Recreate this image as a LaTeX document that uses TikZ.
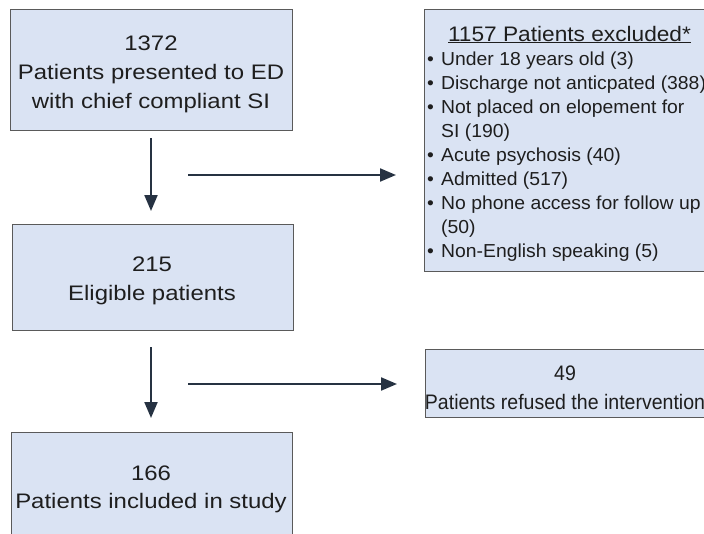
\documentclass[tikz,border=0pt]{standalone}
\usepackage{fontspec}
\setmainfont{Liberation Sans}
\newfontfamily\fA[FakeStretch=1.14]{Liberation Sans}
\newfontfamily\fB[FakeStretch=0.93]{Liberation Sans}
\newfontfamily\fC[FakeStretch=1.03]{Liberation Sans}
\newfontfamily\fD[FakeStretch=1.08]{Liberation Sans}
\usetikzlibrary{arrows.meta}
\definecolor{boxfill}{RGB}{218,227,243}
\definecolor{boxline}{RGB}{90,90,90}
\definecolor{arrowcol}{RGB}{38,50,66}
\definecolor{txt}{RGB}{30,30,30}
\tikzset{
  box/.style={draw=boxline, fill=boxfill, line width=1pt, anchor=north west, inner sep=0pt},
  bigtxt/.style={anchor=base, inner sep=0pt, text=txt, font=\fA\fontsize{21}{25}\selectfont},
  smalltxt/.style={anchor=base, inner sep=0pt, text=txt, font=\fB\fontsize{21}{25}\selectfont},
  listtxt/.style={anchor=base west, inner sep=0pt, text=txt, font=\fC\fontsize{18.8}{24}\selectfont},
  titletxt/.style={anchor=base, inner sep=0pt, text=txt, font=\fD\fontsize{21}{25}\selectfont},
  flowarrow/.style={draw=arrowcol, line width=2.2pt, -{Triangle[width=13pt,length=16pt]}}
}
\begin{document}
\begin{tikzpicture}[x=1pt,y=-1pt]
\useasboundingbox (0,0) rectangle (704,533);
% boxes
\node[box, minimum width=282pt, minimum height=121pt] (b1) at (10,9) {};
\node[box, minimum width=281pt, minimum height=106pt] (b2) at (12,224) {};
\node[box, minimum width=281pt, minimum height=120pt] (b3) at (11,432) {};
\node[box, minimum width=300pt, minimum height=262pt] (ex) at (424,9) {};
\node[box, minimum width=300pt, minimum height=68pt] (rf) at (425,349) {};
% box 1 text
\node[bigtxt] (t1a) at (151,50) {1372};
\node[bigtxt] (t1b) at (151,79) {Patients presented to ED};
\node[bigtxt] (t1c) at (151,108) {with chief compliant SI};
% box 2 text
\node[bigtxt] (t2a) at (152,271) {215};
\node[bigtxt] (t2b) at (152,300) {Eligible patients};
% box 3 text
\node[bigtxt] (t3a) at (151,480) {166};
\node[bigtxt] (t3b) at (151,508) {Patients included in study};
% refused box text
\node[smalltxt] (t4a) at (565,380) {49};
\node[smalltxt] (t4b) at (565,409) {Patients refused the intervention};
% exclusion box text
\node[titletxt] (ext) at (569.5,41) {\underline{1157 Patients excluded*}};
\node[listtxt] (e1) at (427,65) {\makebox[14pt][l]{•}Under 18 years old (3)};
\node[listtxt] (e2) at (427,89) {\makebox[14pt][l]{•}Discharge not anticpated (388)};
\node[listtxt] (e3) at (427,113) {\makebox[14pt][l]{•}Not placed on elopement for};
\node[listtxt] (e3b) at (441,137) {SI (190)};
\node[listtxt] (e4) at (427,161) {\makebox[14pt][l]{•}Acute psychosis (40)};
\node[listtxt] (e5) at (427,185) {\makebox[14pt][l]{•}Admitted (517)};
\node[listtxt] (e6) at (427,209) {\makebox[14pt][l]{•}No phone access for follow up};
\node[listtxt] (e6b) at (441,233) {(50)};
\node[listtxt] (e7) at (427,257) {\makebox[14pt][l]{•}Non-English speaking (5)};
% arrow coordinates
\coordinate (v1s) at (151,138);
\coordinate (v1e) at (151,211);
\coordinate (h1s) at (188,175);
\coordinate (h1e) at (396,175);
\coordinate (v2s) at (151,347);
\coordinate (v2e) at (151,418);
\coordinate (h2s) at (188,384);
\coordinate (h2e) at (397,384);
\draw[flowarrow] (v1s) -- (v1e);
\draw[flowarrow] (h1s) -- (h1e);
\draw[flowarrow] (v2s) -- (v2e);
\draw[flowarrow] (h2s) -- (h2e);
\end{tikzpicture}
\end{document}
